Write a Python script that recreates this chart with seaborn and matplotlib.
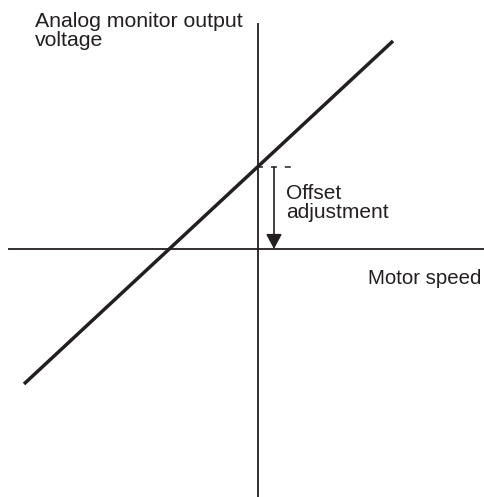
import matplotlib
matplotlib.use("Agg")
import matplotlib.pyplot as plt
import seaborn as sns
import pandas as pd

# Characteristic line: analog monitor output voltage vs motor speed
speed = [-2.34, 1.35]
voltage = [-1.35, 2.08]
offset = 0.82

# Coordinate axes extents
speed_axis = [-2.50, 2.26]
voltage_axis = [-2.48, 2.26]

y_label = "Analog monitor output\nvoltage"
x_label = "Motor speed"
offset_label = "Offset\nadjustment"

sns.set_theme(style="white")
plt.rcParams["font.family"] = ["Liberation Sans", "DejaVu Sans"]

fig = plt.figure(figsize=(4.85, 4.97), dpi=100)
ax = fig.add_axes([0, 0, 1, 1])
ax.set_xlim(-2.58, 2.27)
ax.set_ylim(-2.48, 2.49)
ax.axis("off")

ink = "#231f20"

# Axes through the origin
ax.plot(speed_axis, [0, 0], color=ink, lw=1.3, solid_capstyle="butt")
ax.plot([0, 0], voltage_axis, color=ink, lw=1.3, solid_capstyle="butt")

# Characteristic line
df = pd.DataFrame({"speed": speed, "voltage": voltage})
sns.lineplot(data=df, x="speed", y="voltage", ax=ax, color=ink, lw=2.5,
             legend=False)
ax.lines[-1].set_solid_capstyle("butt")

# Offset marker: dashed guide and arrow down to the speed axis
ax.plot([-0.01, 0.33], [offset, offset], color=ink, lw=1.1,
        dashes=(3.9, 5.2), dash_capstyle="butt")
arrow_x = 0.16
ax.annotate("", xy=(arrow_x, 0.0), xytext=(arrow_x, offset),
            arrowprops=dict(arrowstyle="-|>,head_length=0.75,head_width=0.4",
                            color=ink, lw=1.2, shrinkA=0, shrinkB=0))

ax.text(-2.23, 2.37, y_label, fontsize=15.3, color=ink, ha="left", va="top",
        linespacing=1.02)
ax.text(1.10, -0.35, x_label, fontsize=14.7, color=ink, ha="left",
        va="baseline")
ax.text(0.28, 0.65, offset_label, fontsize=15.0, color=ink, ha="left",
        va="top", linespacing=1.0)

fig.savefig("out.png", dpi=100, facecolor="white")
